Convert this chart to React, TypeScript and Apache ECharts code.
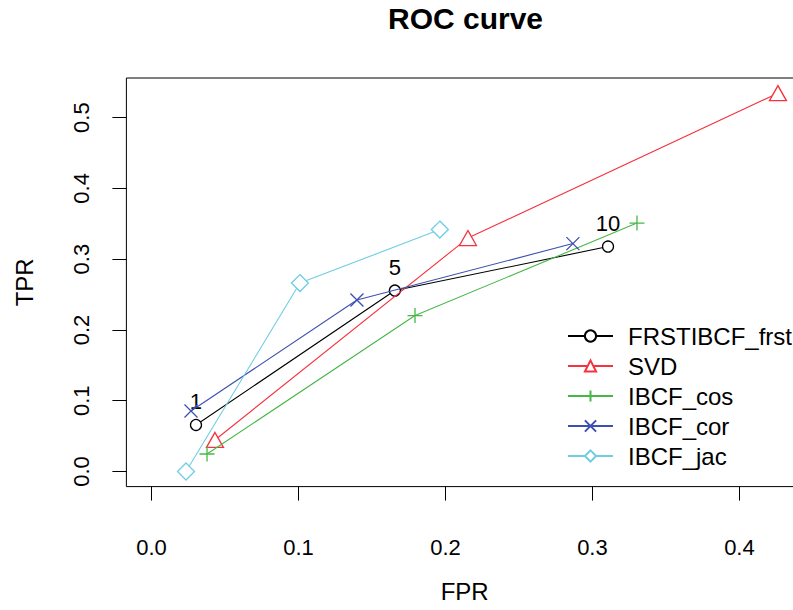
import React, { useEffect, useRef } from "react";
import * as echarts from "echarts";

const seriesNames = ["FRSTIBCF_frst", "SVD", "IBCF_cos", "IBCF_cor", "IBCF_jac"];
const frstFPR = [0.0303, 0.1656, 0.3106];
const frstTPR = [0.0657, 0.2556, 0.3178];
const svdFPR = [0.0432, 0.2153, 0.4262];
const svdTPR = [0.0445, 0.3298, 0.5346];
const cosFPR = [0.0378, 0.1793, 0.3303];
const cosTPR = [0.0247, 0.2203, 0.351];
const corFPR = [0.0269, 0.1398, 0.2867];
const corTPR = [0.0855, 0.2422, 0.322];
const jacFPR = [0.0235, 0.101, 0.1962];
const jacTPR = [0.0, 0.2662, 0.3418];
const nLabels = ["1", "5", "10"];
const xTicks = [0, 0.1, 0.2, 0.3, 0.4];
const yTicks = [0, 0.1, 0.2, 0.3, 0.4, 0.5];

const colors = ["#000000", "#F5333F", "#47B847", "#3D50B0", "#6FCDE3"];
const FONT = "'Liberation Sans', Arial, sans-serif";

const PLUS = "path://M0,-10L0,10M-10,0L10,0";
const CROSS = "path://M-10,-10L10,10M-10,10L10,-10";

export default function App() {
  const ref = useRef<HTMLDivElement>(null);
  useEffect(() => {
    document.body.style.margin = "0";
    const chart = echarts.init(ref.current!, null, { renderer: "svg" });
    const fprs = [frstFPR, svdFPR, cosFPR, corFPR, jacFPR];
    const tprs = [frstTPR, svdTPR, cosTPR, corTPR, jacTPR];
    const allX = fprs.flat();
    const allY = tprs.flat();
    const xLo = 0, xHi = Math.max(...allX);
    const yLo = 0, yHi = Math.max(...allY);
    const xExt = (xHi - xLo) * 0.04;
    const yExt = (yHi - yLo) * 0.04;

    const symbols: any[] = [
      { symbol: "circle", size: 11, fill: "#fff" },
      { symbol: "triangle", size: [17, 15], fill: "#fff" },
      { symbol: PLUS, size: 15, fill: null },
      { symbol: CROSS, size: 13, fill: null },
      { symbol: "diamond", size: [17, 17], fill: "#fff" },
    ];

    const series = seriesNames.map((name, i) => ({
      name,
      type: "line",
      data: fprs[i].map((x, j) => [x, tprs[i][j]]),
      symbol: symbols[i].symbol,
      symbolSize: symbols[i].size,
      showAllSymbol: true,
      lineStyle: { color: colors[i], width: 1.1 },
      itemStyle: {
        color: symbols[i].fill ?? colors[i],
        borderColor: colors[i],
        borderWidth: 1.3,
      },
      label:
        i === 0
          ? {
              show: true,
              position: "top",
              distance: 6,
              formatter: (p: any) => nLabels[p.dataIndex],
              color: "#000",
              fontSize: 22,
              fontFamily: FONT,
            }
          : { show: false },
      emphasis: { disabled: true },
      z: 2 + i,
    }));

    chart.setOption({
      animation: false,
      title: {
        text: "ROC curve",
        left: 388,
        top: 3,
        padding: 0,
        textStyle: { fontSize: 30, fontWeight: "bold", fontFamily: FONT, color: "#000" },
      },
      legend: {
        orient: "vertical",
        left: 567,
        top: 324,
        padding: 0,
        itemWidth: 45,
        itemHeight: 14,
        itemGap: 6,
        data: seriesNames,
        textStyle: {
          fontSize: 24,
          lineHeight: 22,
          fontFamily: FONT,
          color: "#000",
          padding: [0, 0, 0, 10],
        },
      },
      grid: {
        left: 126.4,
        right: 10,
        top: 78,
        bottom: 123.4,
        show: true,
        borderColor: "#000",
        borderWidth: 1,
        backgroundColor: "transparent",
      },
      xAxis: {
        type: "value",
        min: xLo - xExt,
        max: xHi + xExt,
        name: "FPR",
        nameLocation: "middle",
        nameGap: 93,
        nameTextStyle: { fontSize: 24, fontFamily: FONT, color: "#000" },
        axisLine: { show: false, onZero: false },
        splitLine: { show: false },
        axisTick: {
          show: true,
          inside: false,
          length: 14,
          customValues: xTicks,
          lineStyle: { color: "#000", width: 1 },
        },
        axisLabel: {
          customValues: xTicks,
          formatter: (v: number) => v.toFixed(1),
          margin: 50,
          fontSize: 22,
          fontFamily: FONT,
          color: "#000",
        },
      },
      yAxis: {
        type: "value",
        min: yLo - yExt,
        max: yHi + yExt,
        name: "TPR",
        nameLocation: "middle",
        nameGap: 90,
        nameTextStyle: { fontSize: 24, fontFamily: FONT, color: "#000" },
        axisLine: { show: false, onZero: false },
        splitLine: { show: false },
        axisTick: {
          show: true,
          inside: false,
          length: 14,
          customValues: yTicks,
          lineStyle: { color: "#000", width: 1 },
        },
        axisLabel: {
          customValues: yTicks,
          formatter: (v: number) => v.toFixed(1),
          margin: 34,
          rotate: 90,
          fontSize: 22,
          fontFamily: FONT,
          color: "#000",
        },
      },
      series,
    });
    return () => chart.dispose();
  }, []);
  return (
    <div style={{ width: 793, height: 610, overflow: "hidden", position: "relative" }}>
      <div ref={ref} style={{ width: 813, height: 610 }} />
    </div>
  );
}
